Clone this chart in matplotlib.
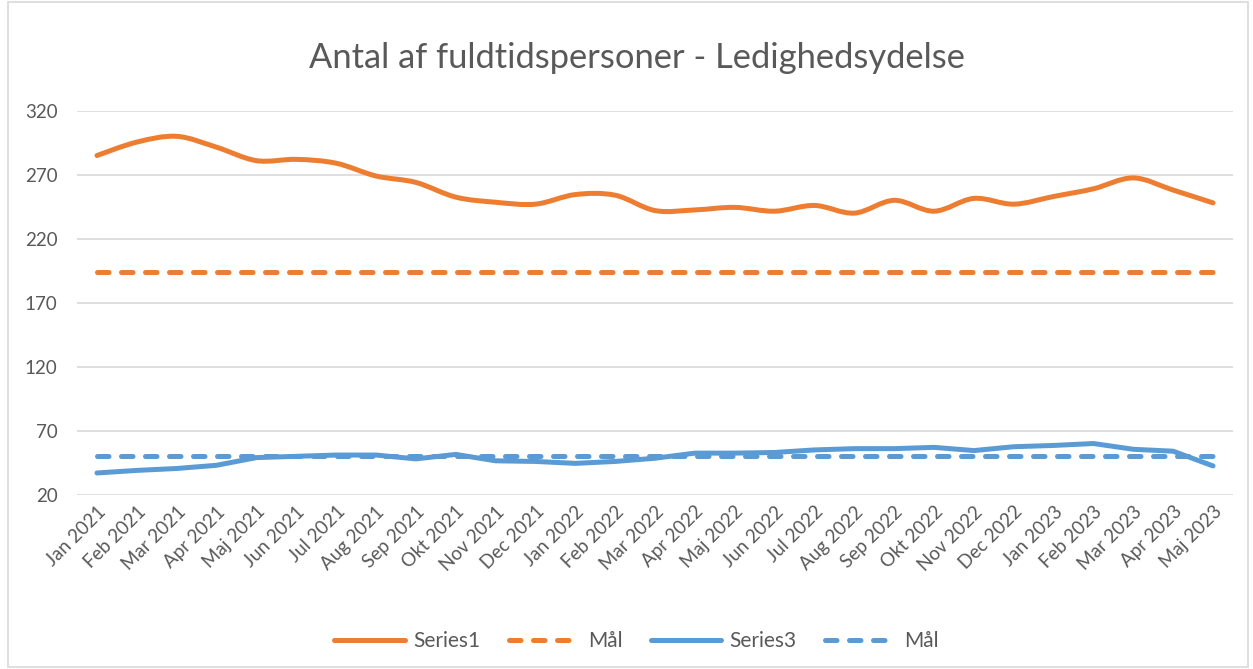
import numpy as np
import matplotlib
matplotlib.use('Agg')
import matplotlib.pyplot as plt
from matplotlib.path import Path
from matplotlib.patches import PathPatch, Rectangle
from matplotlib.lines import Line2D

# =============================================================================
# Data
# =============================================================================
months = ['Jan 2021', 'Feb 2021', 'Mar 2021', 'Apr 2021', 'Maj 2021', 'Jun 2021',
          'Jul 2021', 'Aug 2021', 'Sep 2021', 'Okt 2021', 'Nov 2021', 'Dec 2021',
          'Jan 2022', 'Feb 2022', 'Mar 2022', 'Apr 2022', 'Maj 2022', 'Jun 2022',
          'Jul 2022', 'Aug 2022', 'Sep 2022', 'Okt 2022', 'Nov 2022', 'Dec 2022',
          'Jan 2023', 'Feb 2023', 'Mar 2023', 'Apr 2023', 'Maj 2023']

series1 = [285, 295.5, 300, 291.5, 281, 282, 279, 269, 264, 252.5, 248.5, 247,
           254.5, 254, 242, 242.5, 244.5, 241.5, 246, 240, 250, 241.5, 251.5,
           247, 253, 259, 267.5, 258, 248]
maal1 = 194

series3 = [37, 39, 40.5, 43, 49, 50, 51, 51, 48, 51.5, 46.5, 46, 44.5, 46,
           48.5, 52.5, 52.5, 53, 55, 56, 56, 57, 54.5, 57.5, 58.5, 60, 55.5,
           54, 42.5]
maal3 = 50

yticks = [20, 70, 120, 170, 220, 270, 320]

title = 'Antal af fuldtidspersoner - Ledighedsydelse'

# =============================================================================
# Style
# =============================================================================
ORANGE = '#ED7D31'
BLUE = '#5B9BD5'
GRID = '#D9D9D9'
TEXT = '#595959'
LW = 3.6
DASH = (2.3, 2.5)

plt.rcParams['font.family'] = ['Lato', 'DejaVu Sans']


def smooth_path(xs, ys):
    """Excel-like smoothed line as cubic Bezier segments (Catmull-Rom)."""
    pts = np.column_stack([xs, ys]).astype(float)
    n = len(pts)
    verts = [pts[0]]
    codes = [Path.MOVETO]
    for i in range(n - 1):
        p0 = pts[max(i - 1, 0)]
        p1 = pts[i]
        p2 = pts[i + 1]
        p3 = pts[min(i + 2, n - 1)]
        c1 = p1 + (p2 - p0) / 6.0
        c2 = p2 - (p3 - p1) / 6.0
        verts += [c1, c2, p2]
        codes += [Path.CURVE4] * 3
    return Path(verts, codes)


x = np.arange(len(months))

fig = plt.figure(figsize=(12.53, 6.69), dpi=100)
ax = fig.add_axes([0.0615, 0.2605, 0.9225, 0.574])

# Series1 (smoothed)
ax.add_patch(PathPatch(smooth_path(x, series1), facecolor='none',
                       edgecolor=ORANGE, lw=LW, capstyle='round',
                       joinstyle='round', zorder=3))
ax.plot(x, [maal1] * len(x), color=ORANGE, lw=LW, dashes=DASH,
        dash_capstyle='round', zorder=4)
ax.plot(x, series3, color=BLUE, lw=LW, solid_capstyle='round',
        solid_joinstyle='round', zorder=5)
ax.plot(x, [maal3] * len(x), color=BLUE, lw=LW, dashes=DASH,
        dash_capstyle='round', zorder=6)

ax.set_xlim(-0.5, len(months) - 0.5)
ax.set_ylim(20, 320)
ax.set_yticks(yticks)
ax.set_xticks(x)
ax.set_xticklabels(months, rotation=45, ha='right', rotation_mode='anchor')
ax.tick_params(axis='both', length=0, labelsize=13.5, colors=TEXT)
ax.tick_params(axis='x', pad=6)
ax.tick_params(axis='y', pad=14)
ax.grid(axis='y', color=GRID, lw=1.2)
ax.set_axisbelow(True)
for s in ax.spines.values():
    s.set_visible(False)

fig.text(0.508, 0.913, title, ha='center', va='center', fontsize=24.8,
         color=TEXT)

handles = [
    Line2D([], [], color=ORANGE, lw=LW, solid_capstyle='round'),
    Line2D([], [], color=ORANGE, lw=LW, dashes=DASH, dash_capstyle='round'),
    Line2D([], [], color=BLUE, lw=LW, solid_capstyle='round'),
    Line2D([], [], color=BLUE, lw=LW, dashes=DASH, dash_capstyle='round'),
]
fig.legend(handles, ['Series1', 'Mål', 'Series3', 'Mål'], loc='center',
           bbox_to_anchor=(0.508, 0.042), ncol=4, frameon=False,
           fontsize=15, labelcolor=TEXT, handlelength=3.4,
           columnspacing=1.35, handletextpad=0.4)

fig.patches.append(Rectangle((0.006, 0.003), 0.99, 0.994,
                             transform=fig.transFigure, fill=False,
                             edgecolor=GRID, lw=1.2))

fig.savefig('out.png', dpi=100)
